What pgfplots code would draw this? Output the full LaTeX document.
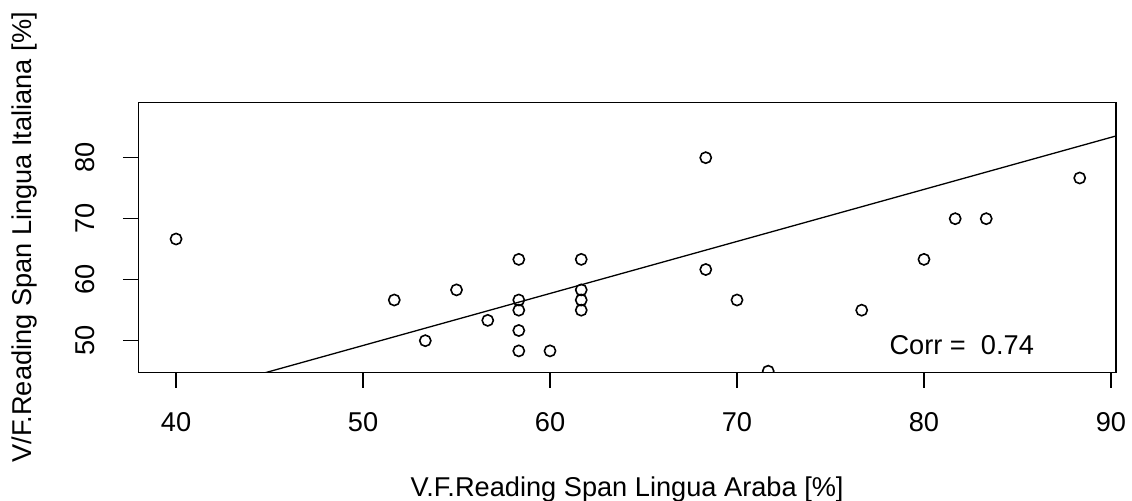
\documentclass[border=0pt]{standalone}
\usepackage{pgfplots}
\pgfplotsset{compat=1.18}
\usepackage{fontspec}
\setmainfont{Liberation Sans}

\pgfplotstableread{
x y
40.00 66.67
51.67 56.67
55.00 58.33
53.33 50.00
56.67 53.33
58.33 63.33
58.33 56.67
58.33 55.00
58.33 51.67
58.33 48.33
60.00 48.33
61.67 63.33
61.67 58.33
61.67 56.67
61.67 55.00
68.33 80.00
68.33 61.67
70.00 56.67
71.67 45.00
76.67 55.00
80.00 63.33
81.67 70.00
83.33 70.00
88.33 76.67
}\scores

\newcommand\rfont{\fontsize{13.6}{16}\selectfont}

\begin{document}
\begin{tikzpicture}
\path[use as bounding box] (-69.15pt,-64.35pt) rectangle (496.85pt,186.15pt);
\begin{axis}[
  at={(0,0)}, anchor=south west,
  scale only axis,
  width=488.85pt, height=135pt,
  xmin=37.98, xmax=90.27,
  ymin=44.82, ymax=89.08,
  xtick={40,50,60,70,80,90},
  ytick={50,60,70,80},
  xtick pos=bottom, ytick pos=left,
  tick align=outside,
  major tick length=7.75pt,
  axis line style={line width=0.75pt},
  every tick/.style={black, line width=0.75pt},
  clip marker paths=true,
  /pgf/number format/assume math mode=true,
  every tick label/.append style={font=\rfont},
  xticklabel style={anchor=base, yshift=-22.1pt},
  yticklabel style={xshift=-14.2pt, rotate=90, anchor=base},
  xlabel={V.F.Reading Span Lingua Araba [\%]},
  ylabel={V/F.Reading Span Lingua Italiana [\%]},
  xlabel style={font=\rfont, at={(axis description cs:0.5,-0.46074)}, anchor=base},
  ylabel style={font=\rfont, at={(axis description cs:-0.10883,0.5)}, anchor=base},
]
% regression line
\addplot[black, line width=0.65pt] coordinates {(37.98,38.96) (90.27,83.56)};
% observations
\addplot[only marks, mark=o, mark size=2.8pt, mark options={line width=0.8pt, black}]
  table[x=x, y=y] {\scores};
\node[anchor=base, font=\rfont] at (axis cs:82.02,47.81) {Corr =\ \ 0.74};
\end{axis}
\end{tikzpicture}
\end{document}
